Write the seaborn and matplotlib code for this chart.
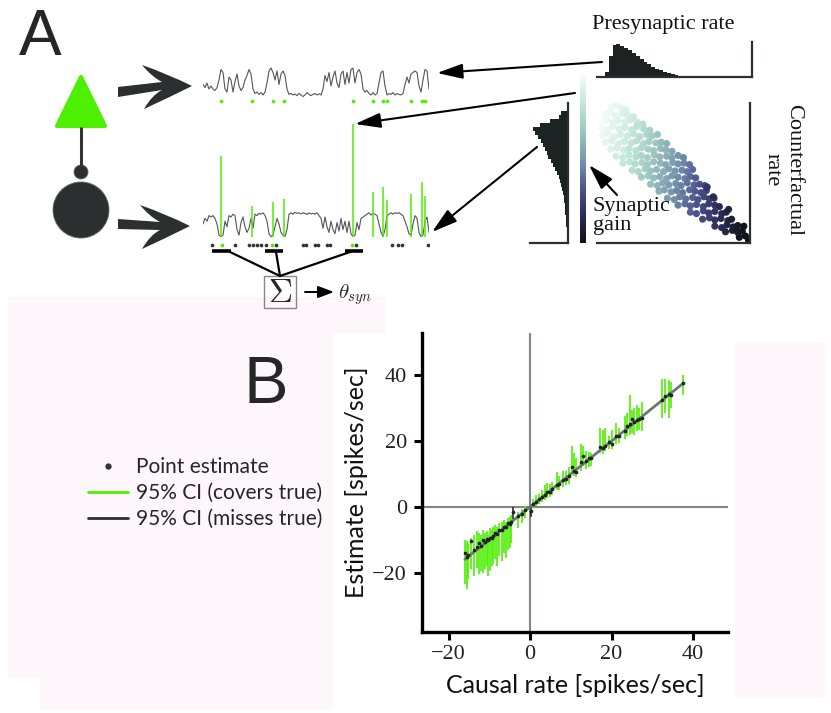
import numpy as np
import pandas as pd
import seaborn as sns
import matplotlib.pyplot as plt
from matplotlib.patches import Rectangle, Polygon, Circle, PathPatch
from matplotlib.path import Path
from matplotlib.lines import Line2D
from matplotlib.colors import LinearSegmentedColormap, Normalize
import matplotlib as mpl

W, H = 831, 713
sns.set_theme(style="white")
plt.rcParams["mathtext.fontset"] = "cm"

GREEN = "#4cf000"
DARK = "#2b2f30"
PINK = "#fdf6fa"
SERIF = "Liberation Serif"
SANS = "Lato"

# ---------------- panel A data ----------------
# membrane traces (normalised), one sample per time step
trace_pre = [0.45, 0.35, 0.5, 0.3, 0.4, 0.3, 0.25, 0.35, 0.6, 0.95,
             0.85, 0.3, 0.2, 0.7, 0.6, 0.2, 0.55, 0.8, 0.4, 0.25,
             0.35, 0.6, 0.75, 0.95, 0.8, 0.3, 0.15, 0.2, 0.12, 0.18,
             0.1, 0.2, 0.5, 0.9, 1.0, 0.85, 0.6, 0.9, 0.45, 0.8,
             0.9, 0.75, 0.3, 0.12, 0.15, 0.1, 0.13, 0.08, 0.15, 0.1,
             0.05, 0.1, 0.18, 0.12, 0.08, 0.12, 0.15, 0.1, 0.14, 0.1,
             0.3, 0.75, 0.55, 0.85, 0.4, 0.7, 0.9, 0.5, 0.35, 0.8,
             0.9, 0.45, 0.85, 0.5, 0.95, 1.0, 0.5, 0.85, 0.95, 0.8,
             0.3, 0.2, 0.25, 0.15, 0.1, 0.18, 0.1, 0.15, 0.5, 0.85,
             0.9, 0.4, 0.1, 0.15, 0.12, 0.18, 0.1, 0.15, 0.12, 0.1,
             0.15, 0.45, 0.7, 0.5, 0.8, 0.85, 0.9, 0.85, 0.4, 0.2,
             0.6, 0.95, 0.9, 0.3]
trace_post = [0.5, 0.7, 0.6, 0.8, 0.75, 0.8, 0.7, 0.5, 0.1, 0.05,
              0.1, 0.6, 0.4, 0.8, 0.75, 0.85, 0.8, 0.3, 0.1, 0.55,
              0.75, 0.4, 0.2, 0.35, 0.7, 0.35, 0.85, 0.8, 0.88, 0.85,
              0.9, 0.8, 0.6, 0.15, 0.05, 0.1, 0.4, 0.7, 0.5, 0.2,
              0.1, 0.05, 0.3, 0.85, 0.9, 0.85, 0.92, 0.88, 0.9, 0.86,
              0.9, 0.88, 0.84, 0.9, 0.86, 0.88, 0.85, 0.9, 0.8, 0.7,
              0.35, 0.75, 0.4, 0.2, 0.6, 0.3, 0.15, 0.55, 0.25, 0.7,
              0.3, 0.6, 0.2, 0.6, 0.15, 0.05, 0.1, 0.55, 0.3, 0.7,
              0.75, 0.8, 0.85, 0.9, 0.82, 0.88, 0.85, 0.8, 0.5, 0.2,
              0.05, 0.3, 0.8, 0.85, 0.9, 0.85, 0.9, 0.88, 0.9, 0.85,
              0.8, 0.6, 0.4, 0.15, 0.1, 0.5, 0.8, 0.7, 0.2, 0.05,
              0.1, 0.6, 0.75, 0.2]
presyn_spikes = [9, 24.5, 35, 40.5, 75, 85, 90, 92, 104, 109.5, 111]
psp_peaks = [2.93, 1.14, 1.29, 1.39, 4.07, 1.64, 1.82, 1.36, 1.57, 2.0, 1.5]
post_spikes = [4.3, 9.3, 16, 23.2, 25.2, 26.8, 28.8, 31.5, 34.3, 36.5, 50.2,
               51.5, 56, 57.7, 61.8, 63.5, 74.3, 76.3, 94.3, 97.7, 99.3, 112.7]
post_matched = [0, 1, 0, 0, 0, 0, 0, 0, 1, 0, 0, 0, 0, 0, 0, 0, 1, 0, 0, 0, 0, 0]

# presynaptic rate histogram (40 bins over 0-100)
pre_rate_heights = [0, 0, 0.15, 0.6, 0.92, 0.95, 0.9, 0.84, 0.76, 0.68,
                    0.6, 0.52, 0.44, 0.37, 0.3, 0.24, 0.19, 0.15, 0.11, 0.08,
                    0.06, 0.04, 0.03, 0.02, 0.01, 0, 0, 0, 0, 0,
                    0, 0, 0, 0, 0, 0, 0, 0, 0, 0]
# counterfactual rate histogram (35 bins over 0-100, bottom to top)
cf_rate_widths = [1, 1, 1.2, 1.4, 1.6, 2, 2.3, 2.7, 3, 3.5,
                  4, 4.5, 5.2, 6, 7, 8, 9, 11, 13, 15,
                  17, 20, 21.5, 23, 25, 27, 30, 33, 35, 28,
                  18, 9, 7, 0, 0]

# presynaptic rate vs counterfactual rate, coloured by synaptic gain
scatter_rate = [9, 12.5, 16, 19,
                5, 8.5, 12, 16.5, 20, 24,
                3, 6.5, 10.5, 14, 18.5, 22, 26.5, 30,
                2.5, 6, 10, 14.5, 18, 22.5, 26, 30.5, 34.5,
                3.5, 7.5, 11.5, 15.5, 20, 24, 28, 32.5, 36, 39.5,
                5.5, 9.5, 14, 18, 22.5, 26, 30.5, 34, 38.5, 42, 45.5,
                9, 13, 17.5, 21, 25.5, 29, 33.5, 37, 41.5, 45, 49,
                12.5, 17, 21, 25.5, 29, 33, 37.5, 41, 45.5, 49, 53, 56.5,
                17, 21.5, 25, 29.5, 33, 37, 41.5, 45, 49.5, 53, 57, 60.5,
                23, 27, 31.5, 35, 39, 43.5, 47, 51, 55.5, 59, 62.5,
                29, 33.5, 37, 41, 45.5, 49, 53, 57.5, 61, 64.5,
                35, 39.5, 43, 47, 51.5, 55, 59, 63.5, 67, 70.5,
                40.5, 44, 48.5, 52, 56, 60.5, 64, 68, 71.5,
                46, 50.5, 54, 58, 62.5, 66, 70, 73.5, 76.5,
                53, 57.5, 61, 65, 69.5, 73, 77, 80,
                61, 65, 69.5, 73, 77, 81.5, 84.5,
                69, 73.5, 77, 81, 85.5, 88,
                77, 81.5, 85, 89, 92,
                84, 88.5, 92, 95,
                93, 97, 99,
                72, 86, 91, 76, 96]
scatter_cf = [97, 98.5, 96.5, 95,
              92, 93.5, 91, 92.5, 91.5, 90,
              87, 88, 86, 87.5, 86.5, 88, 86, 85,
              82, 81, 83, 81.5, 82.5, 81, 83, 81.5, 80.5,
              77, 78, 76, 77.5, 76.5, 78, 76, 77.5, 76.5, 77.5,
              72, 73, 71, 72.5, 71.5, 73, 71, 72.5, 71.5, 72, 71,
              67, 68, 66.5, 67.5, 66, 68, 67, 66, 67.5, 66.5, 65.5,
              62, 61, 63, 61.5, 62.5, 61, 63, 61.5, 62, 61, 62.5, 61,
              57, 58, 56.5, 57.5, 56, 58, 57, 56, 57.5, 56.5, 57, 56,
              52, 51, 53, 51.5, 52.5, 51, 53, 51.5, 52, 51, 52.5,
              47, 48, 46.5, 47.5, 46, 48, 47, 46, 47.5, 46.5,
              42, 41, 43, 41.5, 42.5, 41, 43, 41.5, 42, 41,
              37, 38, 36.5, 37.5, 36, 38, 37, 36, 37.5,
              32, 31, 33, 31.5, 32.5, 31, 33, 31.5, 32,
              27, 28, 26.5, 27.5, 26, 28, 27, 26,
              22, 21, 23, 21.5, 22.5, 21, 22,
              17, 18, 16.5, 17.5, 16, 17,
              12, 11, 13, 11.5, 12.5,
              8, 9, 7.5, 8.5,
              4, 5, 2,
              40, 24, 10, 33, 12]
scatter_gain = [.02, .04, .06, .09,
                .01, .03, .05, .08, .1, .13,
                .0, .02, .05, .07, .1, .13, .16, .2,
                .01, .03, .06, .09, .12, .15, .19, .23, .27,
                .03, .05, .08, .11, .14, .18, .22, .26, .3, .34,
                .05, .08, .11, .14, .18, .21, .25, .29, .33, .37, .41,
                .08, .11, .14, .18, .21, .25, .29, .33, .37, .41, .45,
                .12, .15, .18, .22, .26, .3, .34, .38, .42, .46, .5, .54,
                .16, .19, .23, .27, .31, .35, .39, .43, .47, .51, .55, .59,
                .22, .26, .3, .34, .38, .42, .46, .5, .54, .58, .62,
                .3, .33, .37, .41, .45, .49, .53, .57, .61, .65,
                .36, .4, .44, .48, .52, .56, .6, .64, .68, .72,
                .42, .46, .5, .54, .58, .62, .66, .7, .74,
                .48, .52, .56, .6, .64, .68, .72, .76, .8,
                .56, .6, .64, .68, .72, .76, .8, .84,
                .64, .68, .72, .76, .8, .84, .88,
                .72, .76, .8, .84, .88, .92,
                .8, .84, .88, .92, .95,
                .88, .92, .95, .98,
                .98, 1, 1,
                .8, .9, .95, .85, 1]

# ---------------- panel B data ----------------
causal_rate = [-16.0, -15.6, -15.2, -14.6, -13.8, -13.0, -12.5, -12.0, -11.5, -11.0,
               -10.6, -10.2, -9.8, -9.4, -9.0, -8.5, -8.0, -7.5, -7.0, -6.5,
               -6.0, -5.5, -5.0, -4.6, -4.2, -3.0, -2.0, -1.2, 0.3,
               0.8, 1.5, 2.2, 3.0, 3.7, 4.2, 4.8, 5.5, 6.5, 7.2,
               8.0, 8.8, 9.5, 10.2, 10.8, 11.3, 12.4, 13.0, 13.8, 14.4,
               15.0, 17.2, 17.8, 18.5, 19.4, 20.0, 21.2, 21.8, 23.2, 23.8,
               24.5, 25.0, 25.6, 26.2, 26.8, 27.4, 32.4, 33.2, 34.0, 34.6, 37.5]
estimate = [-14.0, -15.2, -14.8, -10.5, -13.0, -12.2, -11.0, -11.8, -10.2, -10.8,
            -9.8, -10.2, -9.5, -9.6, -8.8, -8.0, -8.2, -7.2, -7.0, -6.0,
            -6.2, -5.0, -5.2, -4.5, -1.5, -2.8, -2.2, -1.0, -1.2,
            0.9, 1.4, 2.3, 3.1, 3.5, 4.6, 4.5, 5.4, 6.7, 7.0,
            8.3, 8.6, 9.4, 12.0, 11.0, 10.5, 13.5, 15.6, 13.8, 14.9,
            15.0, 18.3, 18.0, 18.6, 19.8, 19.2, 21.5, 21.6, 23.0, 24.5,
            25.2, 26.8, 25.8, 26.5, 26.6, 27.0, 32.6, 33.6, 34.4, 34.0, 37.6]
ci_low = [-23.5, -25.0, -22.0, -19.0, -21.0, -18.5, -20.5, -19.5, -20.0, -19.0,
          -18.0, -21.0, -19.5, -18.0, -17.5, -16.0, -18.0, -15.0, -16.5, -14.0,
          -15.5, -13.0, -12.5, -11.0, -3.8, -6.5, -5.0, -3.5, -3.2,
          -0.5, 0.2, 1.0, 1.5, 2.0, 2.8, 3.0, 3.5, 5.0, 5.2,
          6.0, 6.5, 7.0, 10.0, 9.5, 9.0, 11.0, 12.5, 11.5, 12.0,
          12.5, 16.5, 16.0, 17.0, 17.5, 17.5, 19.0, 19.5, 20.5, 21.5,
          22.0, 22.5, 22.0, 23.0, 23.5, 23.0, 27.0, 28.5, 27.0, 30.0, 34.0]
ci_high = [-10.0, -10.5, -11.0, -9.5, -8.5, -7.5, -8.0, -8.5, -7.0, -8.0,
           -7.5, -8.5, -6.5, -7.0, -6.0, -5.5, -6.0, -5.0, -4.5, -4.0,
           -4.5, -3.5, -3.0, -2.5, -0.2, -1.5, -0.8, 0.2, -0.2,
           2.5, 3.5, 4.0, 5.0, 6.5, 7.2, 6.8, 7.5, 10.5, 9.5,
           11.0, 10.8, 12.0, 18.5, 16.5, 15.0, 19.0, 18.5, 17.0, 16.8,
           16.5, 24.0, 23.5, 24.0, 21.5, 23.5, 25.5, 24.0, 27.5, 28.5,
           34.0, 29.5, 30.0, 31.0, 30.0, 32.0, 39.0, 39.0, 38.5, 38.0, 40.0]
tick_values = [-20, 0, 20, 40]
tick_labels = ["\u221220", "0", "20", "40"]

fig = plt.figure(figsize=(W / 100, H / 100), dpi=100, facecolor="white")


def px_axes(x0, y0, x1, y1, **kw):
    ax = fig.add_axes([x0 / W, 1 - y1 / H, (x1 - x0) / W, (y1 - y0) / H], **kw)
    ax.patch.set_visible(False)
    return ax


def full_axes(z):
    ax = fig.add_axes([0, 0, 1, 1], zorder=z)
    ax.set_xlim(0, W)
    ax.set_ylim(H, 0)
    ax.axis("off")
    ax.patch.set_visible(False)
    return ax


# pale pink backdrop
bg = full_axes(-5)
for (x0, y0, x1, y1) in [(8, 297, 385, 333), (8, 333, 333, 678), (40, 678, 333, 710), (735, 342, 825, 698)]:
    bg.add_patch(Rectangle((x0, y0), x1 - x0, y1 - y0, color=PINK, lw=0))

gain_cmap = LinearSegmentedColormap.from_list(
    "gain", ["#f4fbf8", "#c2e7d8", "#9cc6c0", "#7898ae", "#4d5690", "#2c2c58", "#111118"])

# ---------------- panel A: traces ----------------
ax_t1 = px_axes(203, 60, 429, 104)
t1 = pd.DataFrame({"t": np.arange(len(trace_pre)), "v": trace_pre})
sns.lineplot(data=t1, x="t", y="v", color="#555555", lw=0.8, ax=ax_t1)
pre_dots = pd.DataFrame({"t": presyn_spikes, "y": -0.1})
sns.scatterplot(data=pre_dots, x="t", y="y", color=GREEN, s=7, linewidth=0, ax=ax_t1)
ax_t1.set_xlim(0, 113)
ax_t1.set_ylim(-0.2, 1.267)
ax_t1.axis("off")

ax_t2 = px_axes(203, 118, 429, 256)
t2 = pd.DataFrame({"t": np.arange(len(trace_post)), "v": trace_post})
sns.lineplot(data=t2, x="t", y="v", color="#555555", lw=0.8, ax=ax_t2)
ax_t2.vlines(presyn_spikes, 0.05, psp_peaks, color=GREEN, lw=1.1)
post = pd.DataFrame({"t": post_spikes, "m": post_matched, "y": -0.25})
sns.scatterplot(data=post[post.m == 0], x="t", y="y", color="#333333", s=7, linewidth=0, ax=ax_t2)
sns.scatterplot(data=post[post.m == 1], x="t", y="y", color=GREEN, s=7, linewidth=0, ax=ax_t2)
ax_t2.set_xlim(0, 113)
ax_t2.set_ylim(-0.643, 4.286)
ax_t2.axis("off")

# ---------------- panel A: distributions ----------------
ax_hp = px_axes(597, 42, 752, 77)
edges_p = np.linspace(0, 100, len(pre_rate_heights) + 1)
hp = pd.DataFrame({"rate": (edges_p[:-1] + edges_p[1:]) / 2, "w": pre_rate_heights})
sns.histplot(data=hp, x="rate", weights="w", bins=edges_p.tolist(),
             element="step", fill=True, color="#1d2222", alpha=1, lw=0, ax=ax_hp)
ax_hp.set_xlim(0, 100)
ax_hp.set_ylim(0, 1)

ax_hc = px_axes(530, 103, 568, 243)
edges_c = np.linspace(0, 100, len(cf_rate_widths) + 1)
hc = pd.DataFrame({"cf": (edges_c[:-1] + edges_c[1:]) / 2, "w": cf_rate_widths})
sns.histplot(data=hc, y="cf", weights="w", bins=edges_c.tolist(),
             element="step", fill=True, color="#1d2222", alpha=1, lw=0, ax=ax_hc)
ax_hc.set_ylim(0, 100)
ax_hc.set_xlim(38, 0)

ax_sc = px_axes(597, 103, 750, 243)
sc = pd.DataFrame({"rate": scatter_rate, "cf": scatter_cf, "gain": scatter_gain})
sns.scatterplot(data=sc, x="rate", y="cf", hue="gain", palette=gain_cmap, hue_norm=(0, 1),
                s=26, linewidth=0, legend=False, ax=ax_sc)
ax_sc.set_xlim(0, 100)
ax_sc.set_ylim(0, 100)

for ax in (ax_hp, ax_hc, ax_sc):
    ax.set_xlabel("")
    ax.set_ylabel("")
    ax.set_xticks([])
    ax.set_yticks([])
    for side in ("left", "top"):
        ax.spines[side].set_visible(False)
    for side in ("right", "bottom"):
        ax.spines[side].set_color("#2a2f2f")
        ax.spines[side].set_linewidth(1.6)

cax = px_axes(580, 75, 586, 243)
cb = mpl.colorbar.ColorbarBase(cax, cmap=gain_cmap, norm=Normalize(0, 1), orientation="vertical")
cb.outline.set_visible(False)
cax.invert_yaxis()
cax.set_yticks([])

# ---------------- panel B ----------------
axb = px_axes(421.7, 333, 728, 631.7)
df_b = pd.DataFrame({"causal": causal_rate, "estimate": estimate, "lo": ci_low, "hi": ci_high})
df_b["covers"] = (df_b.lo <= df_b.causal) & (df_b.causal <= df_b.hi)
axb.axhline(0, color="#7c8787", lw=1.5, zorder=1)
axb.axvline(0, color="#7c8787", lw=1.5, zorder=1)
for covers, color in [(True, GREEN), (False, DARK)]:
    sub = df_b[df_b.covers == covers]
    axb.vlines(sub.causal, sub.lo, sub.hi, color=color, lw=1.2, zorder=2)
ident = pd.DataFrame({"x": [df_b.causal.min(), df_b.causal.max()]})
ident["y"] = ident.x
sns.lineplot(data=ident, x="x", y="y", color="#6c7676", lw=2.0, ax=axb, zorder=3)
sns.scatterplot(data=df_b, x="causal", y="estimate", color="#222222", s=7, linewidth=0, ax=axb, zorder=4)
axb.set_xlim(-26.6, 48.6)
axb.set_ylim(-38, 52.9)
tick_font = {"family": SERIF, "size": 16, "color": "#222222"}
axb.set_xticks(tick_values, tick_labels, fontdict=tick_font)
axb.set_yticks(tick_values, tick_labels, fontdict=tick_font)
axb.tick_params(bottom=True, left=True, direction="out", length=6, width=2.2, color="black")
axb.tick_params(axis="y", pad=4.5)
for side in ("right", "top"):
    axb.spines[side].set_visible(False)
for side in ("left", "bottom"):
    axb.spines[side].set_color("black")
    axb.spines[side].set_linewidth(2.4)
axb.set_xlabel("Causal rate [spikes/sec]", fontsize=18, family=SANS, color="#111111", labelpad=7)
axb.set_ylabel("Estimate [spikes/sec]", fontsize=18, family=SANS, color="#111111", labelpad=3)

handles = [Line2D([], [], marker="o", ms=3.5, color="#333333", ls="none"),
           Line2D([], [], color=GREEN, lw=2),
           Line2D([], [], color=DARK, lw=2)]
labels = ["Point estimate", "95% CI (covers true)", "95% CI (misses true)"]
fig.legend(handles, labels, loc="upper left", bbox_to_anchor=(88 / W, 1 - 457 / H),
           frameon=False, borderpad=0, borderaxespad=0, handlelength=1.9, handletextpad=0.38,
           labelspacing=0.29, prop={"family": SANS, "size": 15})

# ---------------- schematic overlay ----------------
ov = full_axes(10)


def fat_arrow(x0, y0, xt, yt):
    verts = [(x0, y0 - 5), (xt - 30, yt - 4),
             (xt - 40, yt - 9), (xt - 50, yt - 21),
             (xt - 24, yt - 12), (xt, yt),
             (xt - 24, yt + 12), (xt - 48, yt + 23),
             (xt - 40, yt + 9), (xt - 30, yt + 4),
             (x0, y0 + 5), (x0, y0 - 5)]
    codes = [Path.MOVETO, Path.LINETO, Path.CURVE3, Path.CURVE3, Path.CURVE3, Path.CURVE3,
             Path.CURVE3, Path.CURVE3, Path.CURVE3, Path.CURVE3, Path.LINETO, Path.CLOSEPOLY]
    ov.add_patch(PathPatch(Path(verts, codes), color=DARK, lw=0))


fat_arrow(118, 92, 192, 86)
fat_arrow(118, 224, 190, 226)

# neurons
ov.add_patch(Polygon([(81, 77), (57, 126), (105, 126)], closed=True, fc=GREEN, ec=GREEN,
                     lw=3, joinstyle="round"))
ov.plot([81, 81], [127, 166], color="#333333", lw=2.2, solid_capstyle="butt")
ov.add_patch(Circle((81, 172), 7, fc="#2b2f30", ec="#666666", lw=0.6))
ov.add_patch(Circle((81, 210), 28, fc="#2b2f30", ec="#666666", lw=0.6))

thin = dict(arrowstyle="-|>,head_length=1.3,head_width=0.38", lw=1.5, color="black",
            shrinkA=0, shrinkB=0)
ov.annotate("", xy=(437, 73), xytext=(602, 62), arrowprops=thin)
ov.annotate("", xy=(355, 124), xytext=(575, 93), arrowprops=thin)
ov.annotate("", xy=(432, 232), xytext=(537, 147), arrowprops=thin)
ov.annotate("", xy=(589, 165), xytext=(617, 195), arrowprops=thin)

# brackets to the sum box
for (a, b) in [(212, 231), (265, 283), (345, 363)]:
    ov.plot([a, b], [251, 251], color="black", lw=2.6, solid_capstyle="butt")
for xs in [230, 276, 350]:
    ov.plot([xs, 280], [252, 276], color="black", lw=1.6)
ov.add_patch(Rectangle((264, 276), 32, 32, fill=False, ec="#888888", lw=1))
ov.text(280, 292, r"$\Sigma$", fontsize=24, ha="center", va="center")
ov.annotate("", xy=(334, 292), xytext=(305, 292),
            arrowprops=dict(arrowstyle="-|>,head_length=0.8,head_width=0.3", lw=1.4,
                            color="black", shrinkA=0, shrinkB=0))
ov.text(338, 295, r"$\theta_{syn}$", fontsize=15, ha="left", va="center")

ov.text(663, 25, "Presynaptic rate", fontsize=16, family=SERIF, ha="center", va="center", color="#111111")
ov.text(593, 216, "Synaptic\ngain", fontsize=16, family=SERIF, ha="left", va="center",
        linespacing=1.05, color="#111111")
ov.text(783, 170, "Counterfactual\nrate", fontsize=16, family=SERIF, ha="center", va="center",
        rotation=-90, linespacing=1.15, color="#111111")

ov.text(40, 38, "A", fontsize=46, family="Liberation Sans", ha="center", va="center")
ov.text(266, 386, "B", fontsize=48, family="Liberation Sans", ha="center", va="center")

fig.savefig("out.png", dpi=100)
